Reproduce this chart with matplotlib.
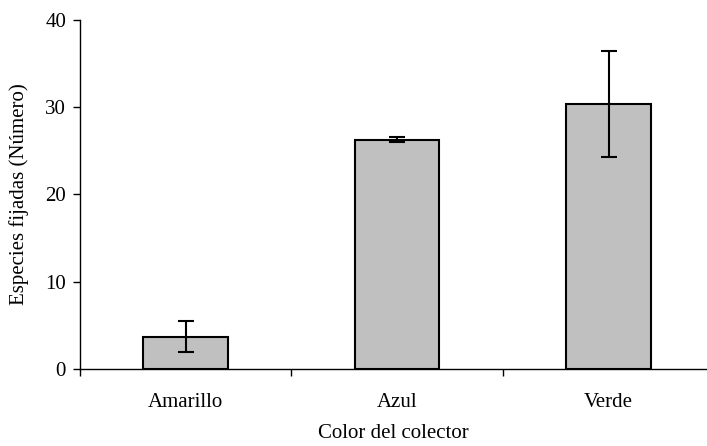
import matplotlib
matplotlib.use("Agg")
import matplotlib.pyplot as plt

# values
categories = ["Amarillo", "Azul", "Verde"]
means = [3.7, 26.3, 30.4]
errors = [1.8, 0.3, 6.1]

plt.rcParams['font.family'] = ['Liberation Serif', 'DejaVu Serif']

fig = plt.figure(figsize=(7.07, 4.46), dpi=100)
ax = fig.add_axes([80 / 707, (446 - 369) / 446, 627 / 707, 349 / 446])

x = list(range(len(categories)))
ax.bar(x, means, width=0.4, color="#C0C0C0", edgecolor="black", linewidth=1.5, zorder=2)
ax.errorbar(x, means, yerr=errors, fmt="none", ecolor="black", elinewidth=1.5,
            capsize=5.5, capthick=1.5, zorder=3)

ax.set_xlim(-0.5, 2.465)
ax.set_ylim(0, 40)
ax.set_yticks([0, 10, 20, 30, 40])

# category labels centred, tick marks on the boundaries
ax.set_xticks([-0.5, 0.5, 1.5])
ax.set_xticklabels([])
ax.set_xticks(x, minor=True)
ax.set_xticklabels(categories, minor=True, fontsize=15)
ax.tick_params(axis="x", which="minor", length=0, pad=17)
ax.tick_params(axis="x", which="major", direction="out", length=5, width=1)
ax.tick_params(axis="y", direction="out", length=5, width=1, labelsize=15, pad=5)

for side in ["top", "right"]:
    ax.spines[side].set_visible(False)
ax.spines["left"].set_linewidth(1)
ax.spines["bottom"].set_linewidth(1)

ax.set_ylabel("Especies fijadas (Número)", fontsize=15, labelpad=12)
ax.set_xlabel("Color del colector", fontsize=15, labelpad=9)

fig.savefig("out.png", dpi=100)
